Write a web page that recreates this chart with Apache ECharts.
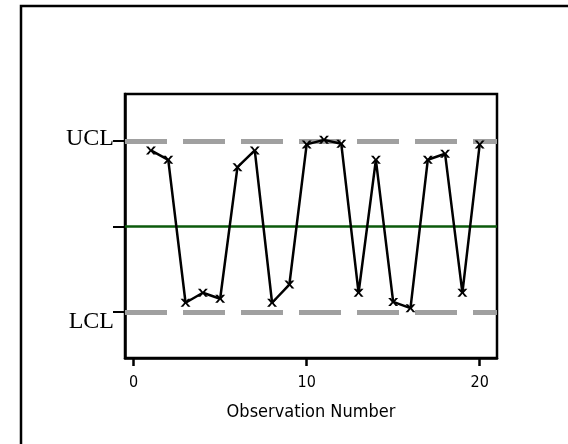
<!DOCTYPE html>
<html>
<head>
<meta charset="utf-8">
<script src="https://cdn.jsdelivr.net/npm/echarts@6/dist/echarts.min.js"></script>
<style>
html,body{margin:0;padding:0;background:#fff;}
#chart{width:568px;height:444px;}
</style>
</head>
<body>
<div id="chart"></div>
<script>
// Observation numbers and values (in sigma units, control limits at +/-3)
var observations = [1,2,3,4,5,6,7,8,9,10,11,12,13,14,15,16,17,18,19,20];
var values = [2.67,2.34,-2.68,-2.33,-2.54,2.08,2.67,-2.68,-2.04,2.88,3.04,2.90,-2.33,2.34,-2.65,-2.87,2.34,2.55,-2.33,2.88];
var ucl = 3;
var lcl = -3;
var center = 0;
var xTickValues = [0,10,20];
var yTickValues = [lcl, center, ucl];
var yTickLabels = ['LCL', '', 'UCL'];
var xAxisTitle = 'Observation Number';

var seriesData = observations.map(function (x, i) { return [x, values[i]]; });
var sansNarrow = "'Liberation Sans Narrow', 'Arial Narrow', 'DejaVu Sans Condensed', 'Liberation Sans', Arial, sans-serif";
var xMark = 'path://M0,0 L2.6,0 L5,3 L7.4,0 L10,0 L6.4,4 L10,8 L7.4,8 L5,5 L2.6,8 L0,8 L3.6,4 Z';

var chart = echarts.init(document.getElementById('chart'), null, {renderer: 'canvas'});
chart.setOption({
  animation: false,
  backgroundColor: '#ffffff',
  graphic: [{
    type: 'rect',
    shape: {x: 21, y: 6, width: 700, height: 600},
    style: {fill: 'none', stroke: '#000', lineWidth: 2.5},
    z: 100
  }],
  grid: {
    left: 125, top: 94, right: 71, bottom: 86,
    show: true, borderColor: '#000', borderWidth: 2.5, backgroundColor: 'transparent'
  },
  xAxis: {
    type: 'value',
    min: -0.5,
    max: 21,
    splitLine: {show: false},
    axisLine: {show: true, onZero: false, lineStyle: {color: '#000', width: 2.5}},
    axisTick: {show: true, customValues: xTickValues, length: 8, lineStyle: {color: '#000', width: 2.5}},
    axisLabel: {
      customValues: xTickValues, margin: 17, color: '#000', fontSize: 16,
      fontFamily: sansNarrow
    },
    name: xAxisTitle,
    nameLocation: 'middle',
    nameGap: 45,
    nameTextStyle: {color: '#000', fontSize: 18, fontFamily: sansNarrow}
  },
  yAxis: {
    type: 'value',
    min: -4.62,
    max: 4.65,
    splitLine: {show: false},
    axisLine: {show: true, onZero: false, lineStyle: {color: '#000', width: 2.5}},
    axisTick: {show: true, customValues: yTickValues, length: 12, lineStyle: {color: '#000', width: 2}},
    axisLabel: {
      customValues: yTickValues,
      margin: 11,
      color: '#000',
      formatter: function (v) {
        for (var i = 0; i < yTickValues.length; i++) {
          if (Math.abs(v - yTickValues[i]) < 1e-6) {
            var t = yTickLabels[i];
            if (!t) return '';
            return (yTickValues[i] < center ? '{lo|' : '{hi|') + t + '}';
          }
        }
        return '';
      },
      rich: {
        hi: {fontSize: 24, fontFamily: "'Liberation Serif', 'Times New Roman', serif", color: '#000', padding: [0, 0, 4, 0]},
        lo: {fontSize: 24, fontFamily: "'Liberation Serif', 'Times New Roman', serif", color: '#000', padding: [20, 0, 0, 0]}
      }
    }
  },
  series: [{
    type: 'line',
    data: seriesData,
    symbol: xMark,
    symbolSize: [10, 8],
    showSymbol: true,
    itemStyle: {color: '#000'},
    lineStyle: {color: '#000', width: 2.5},
    z: 3,
    markLine: {
      silent: true,
      symbol: 'none',
      label: {show: false},
      z: 2,
      data: [
        {yAxis: ucl, lineStyle: {color: '#a0a0a0', width: 5, type: [42, 16]}},
        {yAxis: lcl, lineStyle: {color: '#a0a0a0', width: 5, type: [42, 16]}},
        {yAxis: center, lineStyle: {color: '#0b5a0b', width: 2.5, type: 'solid'}}
      ]
    }
  }]
});
</script>
</body>
</html>
